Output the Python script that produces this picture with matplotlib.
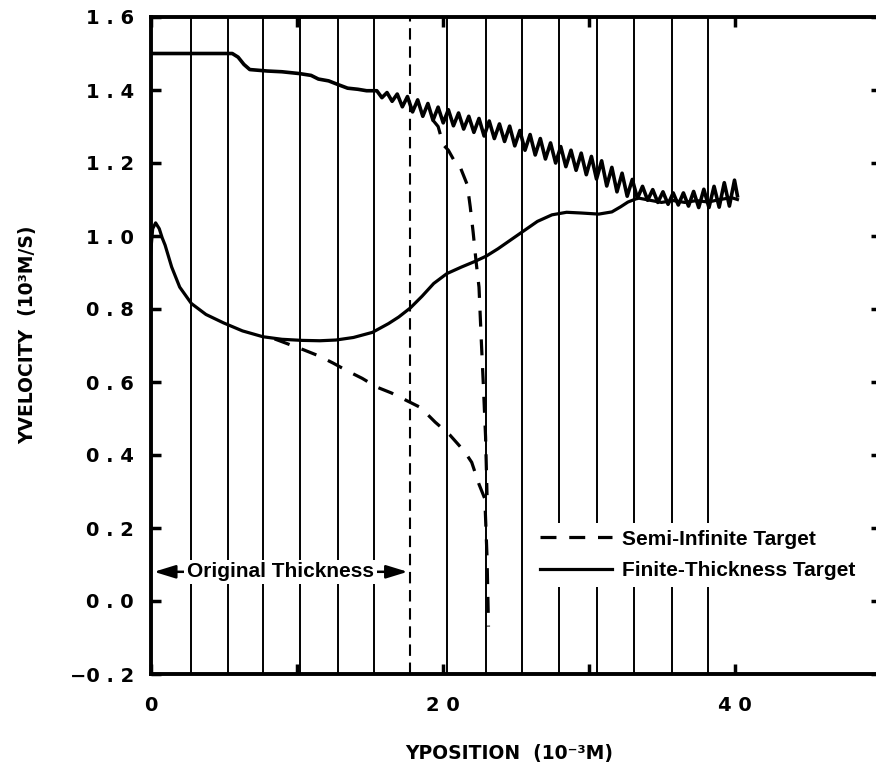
import matplotlib
matplotlib.use("Agg")
import matplotlib.pyplot as plt

plt.rcParams["font.family"] = ["DejaVu Sans"]
plt.rcParams["font.weight"] = "bold"

# finite-thickness target: projectile (upper) branch
upper_x = [0.0, 5.6, 6.0, 6.4, 6.8, 8.0, 9.0, 10.2, 11.0, 11.5, 12.2, 12.9, 13.5, 14.2, 14.8,
           15.5, 15.85, 16.2, 16.55, 16.9, 17.25, 17.6, 17.95, 18.3, 18.65, 19.0, 19.35,
           19.7, 20.05, 20.4, 20.75, 21.1, 21.45, 21.8, 22.15, 22.5, 22.85, 23.2, 23.55,
           23.9, 24.25, 24.6, 24.95, 25.3, 25.65, 26.0, 26.35, 26.7, 27.05, 27.4, 27.75,
           28.1, 28.45, 28.8, 29.15, 29.5, 29.85, 30.2, 30.55, 30.9, 31.25, 31.6, 31.95,
           32.3, 32.65, 33.0, 33.35, 33.7, 34.05, 34.4, 34.75, 35.1, 35.45, 35.8, 36.15,
           36.5, 36.85, 37.2, 37.55, 37.9, 38.25, 38.6, 38.95, 39.3, 39.65, 40.0, 40.2]
upper_v = [1.500, 1.500, 1.490, 1.470, 1.456, 1.452, 1.450, 1.445, 1.440, 1.430, 1.425, 1.414,
           1.405, 1.402, 1.398,
           1.398, 1.379, 1.393, 1.369, 1.389, 1.354, 1.382, 1.340, 1.373, 1.328, 1.363, 1.317,
           1.353, 1.310, 1.346, 1.302, 1.337, 1.293, 1.328, 1.284, 1.322, 1.274, 1.315, 1.267,
           1.307, 1.259, 1.301, 1.247, 1.289, 1.235, 1.278, 1.222, 1.267, 1.211, 1.255, 1.200,
           1.245, 1.190, 1.235, 1.180, 1.227, 1.168, 1.218, 1.156, 1.206, 1.137, 1.188, 1.121,
           1.172, 1.109, 1.155, 1.103, 1.136, 1.098, 1.127, 1.092, 1.121, 1.087, 1.118, 1.085,
           1.118, 1.082, 1.122, 1.078, 1.128, 1.078, 1.136, 1.079, 1.146, 1.082, 1.153, 1.110]

# finite-thickness target: target (lower) branch
lower_x = [0.0, 0.15, 0.35, 0.6, 0.8, 1.0, 1.45, 2.0, 2.8, 3.8, 5.0, 6.3, 7.7, 9.0, 10.4, 11.6,
           12.7, 13.9, 15.2, 16.3, 17.0, 17.8, 18.6, 19.4, 20.3, 21.3, 22.2, 23.0, 23.8, 24.7,
           25.6, 26.5, 27.5, 28.5, 29.5, 30.7, 31.6, 32.2, 32.7, 33.4, 34.2, 35.0, 35.8, 36.6,
           37.4, 38.2, 39.0, 39.8, 40.2]
lower_v = [0.950, 1.020, 1.036, 1.020, 0.995, 0.975, 0.915, 0.860, 0.815, 0.785, 0.762, 0.740,
           0.724, 0.717, 0.714, 0.713, 0.715, 0.722, 0.736, 0.760, 0.778, 0.803, 0.835, 0.870,
           0.897, 0.915, 0.930, 0.945, 0.965, 0.990, 1.015, 1.040, 1.058, 1.065, 1.063, 1.060,
           1.066, 1.080, 1.093, 1.104, 1.098, 1.092, 1.097, 1.092, 1.097, 1.093, 1.100, 1.105,
           1.100]

# semi-infinite target, where it leaves the finite-thickness curves
semi_up_x = [19.35, 19.7, 20.05, 20.4, 20.75, 21.1, 21.45, 21.7, 21.9, 22.1, 22.3, 22.5, 22.65,
             22.8, 22.95, 23.05]
semi_up_v = [1.317, 1.300, 1.250, 1.235, 1.210, 1.200, 1.165, 1.140, 1.080, 1.010, 0.930, 0.860,
             0.720, 0.590, 0.450, 0.290]
semi_low_x = [8.5, 9.5, 10.5, 11.5, 12.5, 13.5, 14.5, 15.5, 16.5, 17.5, 18.5, 19.5, 20.5, 21.5,
              22.0, 22.5, 22.9, 23.05, 23.15]
semi_low_v = [0.718, 0.703, 0.688, 0.672, 0.652, 0.630, 0.610, 0.586, 0.570, 0.550, 0.530, 0.490,
              0.455, 0.410, 0.380, 0.320, 0.280, 0.120, -0.070]

# vertical reference lines (original thickness at the dashed one)
grid_x = [2.8, 5.3, 7.7, 10.25, 12.85, 15.3, 20.3, 22.95, 25.45, 28.0, 30.55, 33.1, 35.7, 38.2]
thickness_x = 17.8

yticks = [-0.2, 0.0, 0.2, 0.4, 0.6, 0.8, 1.0, 1.2, 1.4, 1.6]
ytick_labels = ["\u22120 . 2", "0 . 0", "0 . 2", "0 . 4", "0 . 6", "0 . 8",
                "1 . 0", "1 . 2", "1 . 4", "1 . 6"]
xticks = [0, 10, 20, 30, 40]
xtick_labels = ["0", "", "2 0", "", "4 0"]

fig = plt.figure(figsize=(8.76, 7.68), dpi=100)
ax = fig.add_axes([150.5 / 876, 94 / 768, 730 / 876, 657 / 768])

for gx in grid_x:
    ax.axvline(gx, color="black", lw=1.4, zorder=1)
ax.axvline(thickness_x, color="black", lw=1.5, ls=(0, (5.5, 3.2)), zorder=1)

ax.plot(semi_up_x, semi_up_v, color="black", lw=2.3, ls=(0, (5, 4)), zorder=3)
ax.plot(semi_low_x, semi_low_v, color="black", lw=2.3, ls=(0, (5, 4)), zorder=3,
        label="Semi-Infinite Target")
ax.plot(upper_x, upper_v, color="black", lw=2.6, zorder=3)
ax.plot(lower_x, lower_v, color="black", lw=2.3, zorder=3, label="Finite-Thickness Target")

ax.set_xlim(0, 50)
ax.set_ylim(-0.2, 1.6)
ax.set_yticks(yticks)
ax.set_yticklabels(ytick_labels)
ax.set_xticks(xticks)
ax.set_xticklabels(xtick_labels)
ax.tick_params(direction="in", length=7, width=2.5, labelsize=14, pad=12,
               top=True, right=True)
ax.tick_params(axis="x", pad=16)
for s in ax.spines.values():
    s.set_linewidth(2.8)

# "Original Thickness" arrow
arrow = dict(arrowstyle="-|>,head_length=1.3,head_width=0.4", lw=1.8, color="black")
ax.annotate("", xy=(0.05, 0.08), xytext=(9.0, 0.08), arrowprops=arrow, zorder=4)
ax.annotate("", xy=(thickness_x, 0.08), xytext=(9.0, 0.08), arrowprops=arrow, zorder=4)
ax.text(8.9, 0.08, "Original Thickness", ha="center", va="center", fontsize=15,
        fontweight="bold", family="Liberation Sans",
        bbox=dict(facecolor="white", edgecolor="none", pad=2), zorder=5)

leg = ax.legend(loc="center", bbox_to_anchor=(698 / 876, 213 / 768),
                bbox_transform=fig.transFigure, frameon=True, fancybox=False,
                edgecolor="none", facecolor="white", framealpha=1,
                handlelength=3.45, handletextpad=0.5, labelspacing=0.62, borderpad=0.3,
                prop=dict(family="Liberation Sans", weight="bold", size=15))
leg.set_zorder(6)

fig.text(509 / 876, 14 / 768, "YPOSITION  (10\u207b\u00b3M)", ha="center", va="center",
         fontsize=13.5, fontweight="bold")
fig.text(28 / 876, 1 - 335 / 768, "YVELOCITY  (10\u00b3M/S)", ha="center", va="center",
         rotation=90, fontsize=13.5, fontweight="bold")

fig.savefig("out.png", dpi=100)
